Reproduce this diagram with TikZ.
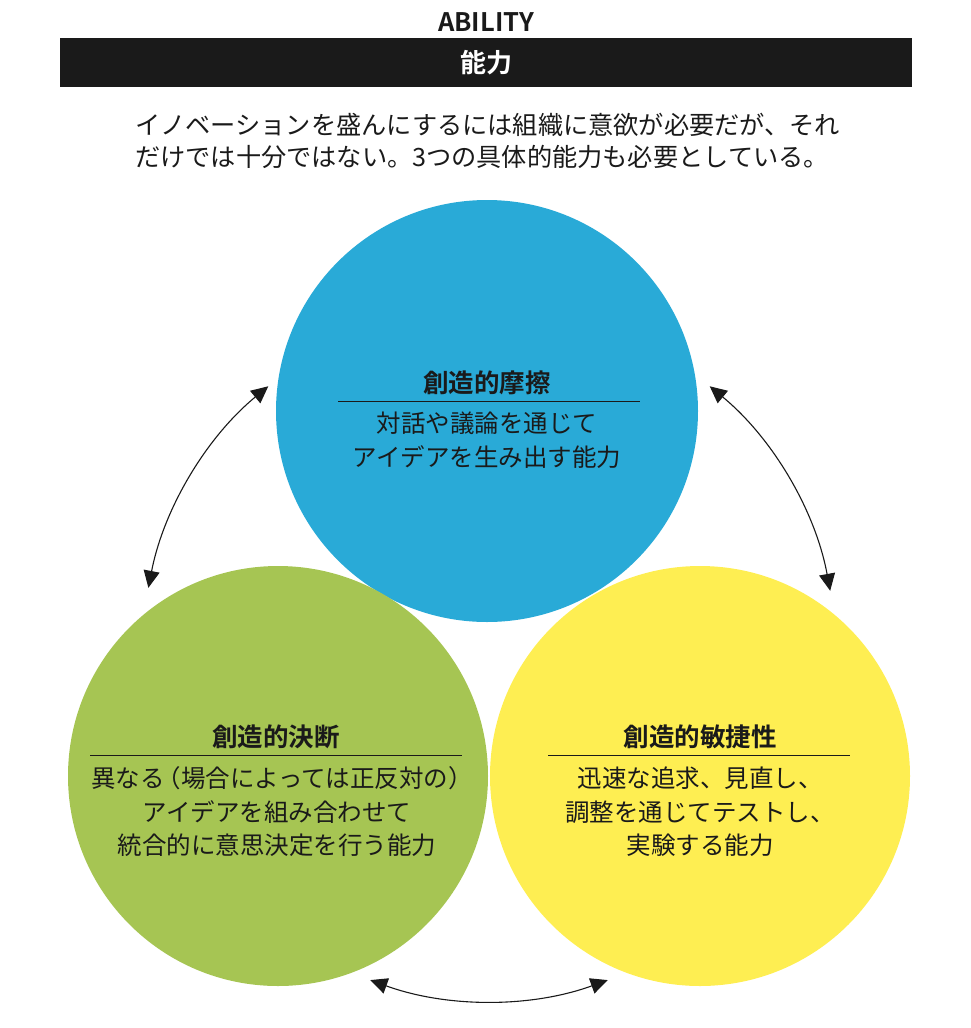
\documentclass[tikz,border=0pt]{standalone}
\usepackage{fontspec}
\setmainfont{Noto Sans CJK JP}[BoldFont=* Bold]
\usetikzlibrary{arrows.meta}
\definecolor{ink}{HTML}{1A1A1A}
\definecolor{cblue}{HTML}{29AAD7}
\definecolor{cgreen}{HTML}{A6C553}
\definecolor{cyellow}{HTML}{FEEE52}
\begin{document}
\begin{tikzpicture}[x=1pt,y=-1pt,
  disc/.style={circle,draw=none,minimum size=422pt,inner sep=0pt},
  ctitle/.style={inner sep=0pt,text=ink,font=\fontsize{25.5}{30}\selectfont\bfseries},
  cbody/.style={inner sep=0pt,text=ink,align=center,font=\fontsize{24.5}{33.5}\selectfont},
  rule/.style={draw=ink,line width=0.9pt},
  cycle/.style={draw=ink,line width=1.1pt,{Triangle[length=17pt,width=16pt]}-{Triangle[length=17pt,width=16pt]}}]
\useasboundingbox (0,0) rectangle (970,1028);

% heading
\node[inner sep=0pt,text=ink,font=\fontsize{25.5}{28}\selectfont\bfseries] (head) at (486,22) {ABILITY};
\node[fill=ink,minimum width=852pt,minimum height=49pt,inner sep=0pt] (bar) at (486,62.5) {};
\node[inner sep=0pt,text=white,font=\fontsize{26}{28}\selectfont\bfseries] (barlabel) at (486,63) {能力};

% introduction
\node[inner sep=0pt,anchor=west,text=ink,align=left,font=\fontsize{25.2}{32}\selectfont] (intro) at (135,141)
  {イノベーションを盛んにするには組織に意欲が必要だが、それ\\だけでは十分ではない。3つの具体的能力も必要としている。};

% three abilities
\node[disc,fill=cblue] (friction) at (487,411) {};
\node[disc,fill=cgreen,minimum size=420pt] (decision) at (278,776) {};
\node[disc,fill=cyellow,minimum size=420pt] (agility) at (700,776) {};

\node[ctitle] (t1) at (487,383) {創造的摩擦};
\draw[rule] (338,401) -- (640,401);
\node[cbody] (b1) at (487,440) {対話や議論を通じて\\アイデアを生み出す能力};

\node[ctitle] (t2) at (276,737) {創造的決断};
\draw[rule] (90,755) -- (462,755);
\node[cbody] (b2) at (277,812) {異なる\kern-8pt（場合によっては正反対の）\kern-10pt\\アイデアを組み合わせて\\統合的に意思決定を行う能力};

\node[ctitle] (t3) at (700,737) {創造的敏捷性};
\draw[rule] (548,755) -- (850,755);
\node[cbody] (b3) at (700,812) {迅速な追求、見直し、\\調整を通じてテストし、\\実験する能力};

% cycle arrows around the common centre (y grows downward, so angles run clockwise)
\coordinate (hub) at (489,654);
\coordinate (l1) at ([shift={(-129.5:347)}]hub);
\coordinate (r1) at ([shift={(-50.5:347)}]hub);
\coordinate (d1) at ([shift={(110:347)}]hub);
\draw[cycle] (l1) arc[start angle=-129.5,end angle=-169,radius=347];
\draw[cycle] (r1) arc[start angle=-50.5,end angle=-10.5,radius=347];
\draw[cycle] (d1) arc[start angle=110,end angle=70,radius=347];
\end{tikzpicture}
\end{document}
